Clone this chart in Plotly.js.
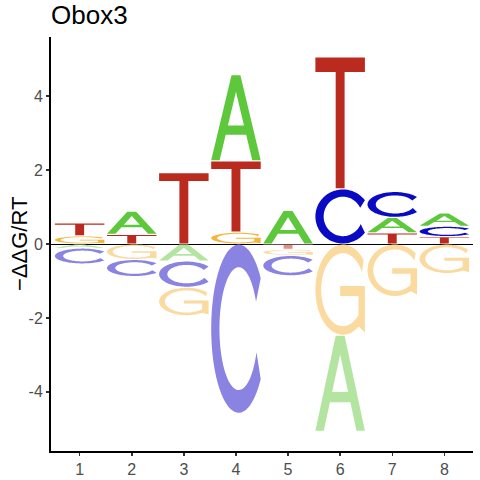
<!DOCTYPE html>
<html><head><meta charset="utf-8">
<script src="https://cdn.plot.ly/plotly-3.0.1.min.js"></script>
<style>html,body{margin:0;padding:0;background:#fff}#chart{width:480px;height:480px}</style>
</head><body><div id="chart"></div>
<script>
// ---- data ----
const positions = [1, 2, 3, 4, 5, 6, 7, 8];
const tickLabels = ['1', '2', '3', '4', '5', '6', '7', '8'];
const valuesA = [-0.11, 0.63, -0.46, 2.33, 0.91, -2.60, 0.42, 0.36];
const valuesC = [-0.43, -0.46, -0.71, -4.58, -0.55, 1.49, 0.70, 0.28];
const valuesG = [0.22, -0.42, -0.77, 0.32, -0.17, -2.47, -1.42, -0.80];
const valuesT = [0.35, 0.26, 1.93, 1.93, -0.14, 3.57, 0.30, 0.20];
const yTickVals = [-4, -2, 0, 2, 4];
const yTickLabels = ['-4', '-2', '0', '2', '4'];
const letters = ['A', 'C', 'G', 'T'];
const colorsPos = {A: '#5DC83B', C: '#0A0AC4', G: '#F5B43A', T: '#BA2A1F'};
const colorsNeg = {A: '#B3E5A1', C: '#8A83E2', G: '#FADA9F', T: '#DB918C'};
const titleText = 'Obox3';
const yTitleText = '\u2212\u0394\u0394G/RT';

// ---- glyph outlines in a unit box ----
function ellPts(cx, cy, rx, ry, a0, a1, n) {
  const pts = [];
  for (let i = 0; i <= n; i++) {
    const a = (a0 + (a1 - a0) * i / n) * Math.PI / 180;
    pts.push([cx + rx * Math.cos(a), cy + ry * Math.sin(a)]);
  }
  return pts;
}
function deg(s) { return Math.asin(s) * 180 / Math.PI; }
function glyphA() {
  const sl = 0.41, lw = 0.17, b0 = 0.30, b1 = 0.41;
  const outer = [[0,0],[sl,1],[1-sl,1],[1,0],[1-lw,0],[1-lw-sl*b0,b0],[lw+sl*b0,b0],[lw,0]];
  const apex = (1 - 2*lw) / (2*sl);
  const hole = [[lw+sl*b1,b1],[0.5,apex],[1-lw-sl*b1,b1]];
  return [outer, hole];
}
function glyphT() {
  const bar = 0.89, s0 = 0.41, s1 = 0.59;
  return [[[0,1],[1,1],[1,bar],[s1,bar],[s1,0],[s0,0],[s0,bar],[0,bar]]];
}
function glyphC() {
  const ro = 0.5, rix = 0.35, riy = 0.365;
  const oU = deg(0.30/ro), oL = deg(-0.30/ro);
  const iU = deg(0.16/riy), iL = deg(-0.14/riy);
  const outer = ellPts(0.5, 0.5, ro, ro, oU, 360 + oL, 90);
  const inner = ellPts(0.5, 0.5, rix, riy, 360 + iL, iU, 80);
  return [outer.concat(inner)];
}
function glyphG() {
  const xR = 0.9, xI = 0.783, barL = 0.45, b0 = 0.43, b1 = 0.54;
  const rix = 0.395, riy = 0.405;
  const oU = deg(0.33/0.5);
  const outer = ellPts(0.5, 0.5, 0.5, 0.5, oU, 305, 80);
  const iStart = -Math.acos((xI - 0.5)/rix) * 180 / Math.PI;
  const iU = deg(0.19/riy);
  const inner = ellPts(0.5, 0.5, rix, riy, iStart, iU - 360, 80);
  return [outer.concat([[xR,0.026],[xR,b1],[barL,b1],[barL,b0],[xI,b0]]).concat(inner)];
}
function normalize(polys) {
  let x0=Infinity,x1=-Infinity,y0=Infinity,y1=-Infinity;
  polys.forEach(p => p.forEach(([u,v]) => {x0=Math.min(x0,u);x1=Math.max(x1,u);y0=Math.min(y0,v);y1=Math.max(y1,v);}));
  return polys.map(p => p.map(([u,v]) => [(u-x0)/(x1-x0), (v-y0)/(y1-y0)]));
}
const glyphs = {A: normalize(glyphA()), C: normalize(glyphC()), G: normalize(glyphG()), T: normalize(glyphT())};
const series = {A: valuesA, C: valuesC, G: valuesG, T: valuesT};

const W = 0.95, PAD = 0.015;
function makeShape(L, xc, y0, y1, color) {
  const pad = Math.min(PAD, (y1 - y0) * 0.1);
  const lo = y0 + pad, hi = y1 - pad, xs = xc - W/2;
  const path = glyphs[L].map(poly => 'M' + poly.map(([u,v]) =>
    (xs + u*W).toFixed(4) + ',' + (lo + v*(hi-lo)).toFixed(4)).join('L') + 'Z').join(' ');
  return {type: 'path', xref: 'x', yref: 'y', path: path, fillcolor: color,
          fillrule: 'evenodd', line: {width: 0}, layer: 'above'};
}
const shapes = [];
positions.forEach((p, i) => {
  const items = letters.map(L => ({L: L, v: series[L][i]}));
  const pos = items.filter(d => d.v > 0).sort((a,b) => a.v - b.v);
  const neg = items.filter(d => d.v < 0).sort((a,b) => b.v - a.v);
  let base = 0;
  pos.forEach(d => { shapes.push(makeShape(d.L, p, base, base + d.v, colorsPos[d.L])); base += d.v; });
  base = 0;
  neg.forEach(d => { shapes.push(makeShape(d.L, p, base + d.v, base, colorsNeg[d.L])); base += d.v; });
});

const FONT = '"Liberation Sans", Arial, sans-serif';
const layout = {
  width: 480, height: 480,
  margin: {l: 51, r: 7, t: 37, b: 29},
  paper_bgcolor: '#ffffff', plot_bgcolor: '#ffffff',
  font: {family: FONT, color: '#000000'},
  showlegend: false,
  title: {text: titleText, font: {family: FONT, size: 26, color: '#000000'},
          x: 0, xref: 'paper', xanchor: 'left', y: 0.988, yref: 'container', yanchor: 'top'},
  xaxis: {range: [0.45, 8.55], tickmode: 'array', tickvals: positions, ticktext: tickLabels,
          showgrid: false, zeroline: false, showline: true, linecolor: '#000000', linewidth: 2,
          ticks: 'outside', ticklen: 3, tickwidth: 1.5, tickcolor: '#333333',
          tickfont: {family: FONT, size: 16, color: '#4D4D4D'}, fixedrange: true},
  yaxis: {range: [-5.6, 5.6], tickmode: 'array', tickvals: yTickVals, ticktext: yTickLabels,
          showgrid: false, zeroline: true, zerolinecolor: '#000000', zerolinewidth: 1,
          showline: true, linecolor: '#000000', linewidth: 2,
          ticks: 'outside', ticklen: 3, tickwidth: 1.5, tickcolor: '#333333',
          tickfont: {family: FONT, size: 16, color: '#4D4D4D'}, fixedrange: true},
  annotations: [{text: yTitleText, textangle: -90, xref: 'paper', yref: 'paper',
                 x: -32/422, y: 0.5, xanchor: 'center', yanchor: 'middle', showarrow: false,
                 font: {family: FONT, size: 22, color: '#000000'}}],
  shapes: shapes
};
Plotly.newPlot('chart', [], layout, {staticPlot: true, displayModeBar: false});
</script>
</body></html>
